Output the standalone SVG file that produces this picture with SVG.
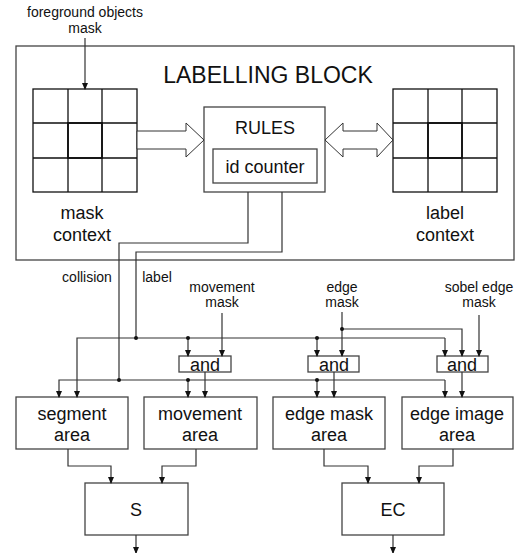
<svg xmlns="http://www.w3.org/2000/svg" width="523" height="553" viewBox="0 0 523 553">
<style>
text{font-family:"Liberation Sans",Arial,sans-serif;fill:#111;text-anchor:middle}
.s{font-size:14px}
.m{font-size:18px}
.box{fill:#fff;stroke:#444;stroke-width:1.3}
.grid{fill:none;stroke:#111;stroke-width:1.3}
.c{fill:none;stroke:#333;stroke-width:1.2}
.ar{marker-end:url(#ah)}
.hollow{fill:#fff;stroke:#333;stroke-width:1}
</style>
<defs>
<marker id="ah" markerUnits="userSpaceOnUse" markerWidth="8" markerHeight="8" refX="6" refY="4" orient="auto"><path d="M0,1 L7,4 L0,7 z" fill="#111"/></marker>
</defs>
<g id="labelling-block">
<rect class="box" x="16" y="46" width="498" height="214"/>
<text x="268" y="83" style="font-size:23px">LABELLING BLOCK</text>
</g>
<g id="mask-context">
<rect class="grid" x="33" y="89" width="104" height="103"/>
<path class="grid" d="M68,89V192M102,89V192M33,123H137M33,158H137"/>
<rect fill="none" stroke="#111" stroke-width="1.8" x="68" y="123" width="34" height="35"/>
<text class="m" x="82" y="219">mask</text>
<text class="m" x="82" y="241">context</text>
</g>
<g id="label-context">
<rect class="grid" x="393" y="89" width="104" height="103"/>
<path class="grid" d="M428,89V192M462,89V192M393,123H497M393,158H497"/>
<rect fill="none" stroke="#111" stroke-width="1.8" x="428" y="123" width="34" height="35"/>
<text class="m" x="445" y="219">label</text>
<text class="m" x="445" y="241">context</text>
</g>
<g id="rules">
<rect class="box" x="204" y="107" width="121" height="85"/>
<text class="m" x="265" y="134">RULES</text>
<rect class="box" x="213" y="149" width="104" height="34"/>
<text class="m" x="265" y="173">id counter</text>
</g>
<g id="foreground-mask">
<text class="s" x="85" y="17">foreground objects</text>
<text class="s" x="85" y="33">mask</text>
</g>
<g id="movement-mask">
<text class="s" x="222" y="292">movement</text>
<text class="s" x="222" y="307">mask</text>
</g>
<g id="edge-mask">
<text class="s" x="342" y="292">edge</text>
<text class="s" x="342" y="307">mask</text>
</g>
<g id="sobel-edge-mask">
<text class="s" x="479" y="292">sobel edge</text>
<text class="s" x="479" y="307">mask</text>
</g>
<g id="collision-label"><text class="s" x="87" y="282">collision</text></g>
<g id="label-label"><text class="s" x="157" y="282">label</text></g>
<g id="and1"><rect class="box" x="179" y="356" width="52" height="16"/><text class="m" x="205" y="371">and</text></g>
<g id="and2"><rect class="box" x="308" y="356" width="51" height="16"/><text class="m" x="334" y="371">and</text></g>
<g id="and3"><rect class="box" x="437" y="356" width="51" height="16"/><text class="m" x="462" y="371">and</text></g>
<g id="segment-area"><rect class="box" x="16" y="397" width="112" height="52"/><text class="m" x="72" y="420">segment</text><text class="m" x="72" y="441">area</text></g>
<g id="movement-area"><rect class="box" x="144" y="397" width="113" height="52"/><text class="m" x="200" y="420">movement</text><text class="m" x="200" y="441">area</text></g>
<g id="edge-mask-area"><rect class="box" x="273" y="397" width="112" height="52"/><text class="m" x="329" y="420">edge mask</text><text class="m" x="329" y="441">area</text></g>
<g id="edge-image-area"><rect class="box" x="402" y="397" width="111" height="52"/><text class="m" x="457" y="420">edge image</text><text class="m" x="457" y="441">area</text></g>
<g id="S"><rect class="box" x="85" y="483" width="103" height="52"/><text class="m" x="136" y="516">S</text></g>
<g id="EC"><rect class="box" x="342" y="483" width="102" height="52"/><text class="m" x="393" y="516">EC</text></g>
<g id="connectors">
<path class="hollow" d="M137,131H186V123L204,140L186,157V149H137z"/>
<path class="hollow" d="M325,140L343,123V131H377V123L393,140L377,157V149H343V157z"/>
<path class="c ar" d="M85,38V89"/>
<path class="c" d="M248,192V243H119V380"/>
<path class="c" d="M282,192V252H136V338"/>
<path class="c ar" d="M445,338H77V397"/>
<path class="c ar" d="M445,338V356"/>
<path class="c ar" d="M188,338V356"/>
<path class="c ar" d="M317,338V356"/>
<path class="c ar" d="M445,380H59V397"/>
<path class="c ar" d="M445,380V397"/>
<path class="c ar" d="M188,380V397"/>
<path class="c ar" d="M317,380V397"/>
<path class="c ar" d="M222,313V356"/>
<path class="c ar" d="M342,312V356"/>
<path class="c ar" d="M342,329H462V356"/>
<path class="c ar" d="M479,315V356"/>
<path class="c ar" d="M205,372V397"/>
<path class="c ar" d="M334,372V397"/>
<path class="c ar" d="M462,372V397"/>
<path class="c ar" d="M68,449V466H111V483"/>
<path class="c ar" d="M196,449V466H162V483"/>
<path class="c ar" d="M324,449V466H368V483"/>
<path class="c ar" d="M453,449V466H419V483"/>
<path class="c ar" d="M136,535V553"/>
<path class="c ar" d="M393,535V553"/>
<g fill="#111"><circle cx="119" cy="380" r="2"/><circle cx="136" cy="338" r="2"/><circle cx="188" cy="338" r="2"/><circle cx="317" cy="338" r="2"/><circle cx="188" cy="380" r="2"/><circle cx="317" cy="380" r="2"/><circle cx="342" cy="329" r="2"/></g>
</g>
</svg>
